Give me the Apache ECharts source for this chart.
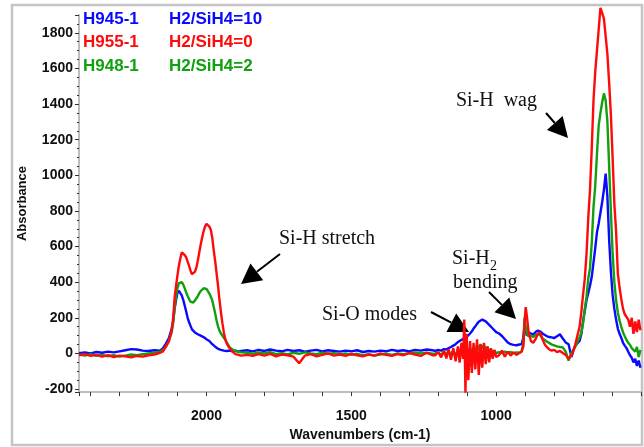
<!DOCTYPE html>
<html>
<head>
<meta charset="utf-8">
<title>FTIR absorbance</title>
<script src="https://cdn.jsdelivr.net/npm/echarts@6.0.0/dist/echarts.min.js"></script>
<style>
  html, body { margin: 0; padding: 0; background: #fff; }
  #chart { width: 644px; height: 447px; }
</style>
</head>
<body>
<div id="chart"></div>
<script>
// sample labels (legend)
const sampleNames = ['H945-1', 'H955-1', 'H948-1']
const gasRatios = ['H2/SiH4=10', 'H2/SiH4=0', 'H2/SiH4=2']

// wavenumbers (cm-1)
const wavenumbers = [
  2440, 2420, 2400, 2380, 2360, 2340, 2320, 2300, 2280, 2260, 2240, 2220, 2200, 2180, 2160,
  2150, 2140, 2130, 2120,
  2115, 2110, 2105, 2100, 2095, 2090, 2085, 2080, 2075, 2070,
  2065, 2060, 2055, 2050, 2045, 2040, 2035, 2030, 2025, 2020,
  2015, 2010, 2005, 2000, 1995, 1990, 1985, 1980, 1975, 1970,
  1965, 1960, 1955, 1950, 1945, 1940, 1935, 1930,
  1920, 1910, 1900, 1890, 1880,
  1860, 1840, 1820, 1800, 1780, 1760, 1740, 1720, 1700, 1680,
  1660, 1640, 1620, 1600, 1580, 1560, 1540, 1520, 1500, 1480,
  1460, 1440, 1420, 1400, 1380, 1360, 1340, 1320, 1300, 1280,
  1260, 1240, 1220,
  1210, 1200, 1190, 1180, 1172, 1164, 1156, 1148, 1140, 1132,
  1126, 1120, 1114, 1110, 1106, 1102, 1096, 1090, 1084, 1078,
  1072, 1066, 1060, 1054, 1048, 1042, 1036, 1030, 1024, 1018,
  1012, 1006, 1000,
  990, 980, 970, 960, 950, 940, 930, 920, 912, 906,
  902, 898, 894, 888, 880, 872, 864, 856, 848, 840,
  832, 824, 816, 808, 800, 790, 780, 770, 760, 750,
  740, 730, 724, 718, 712, 706, 700, 694, 688, 682,
  676, 670, 664, 658, 652, 646, 640, 634, 628, 622,
  616, 610, 604, 598, 592, 586, 580, 574, 568, 562,
  556, 550, 544, 538, 532, 526, 520, 514, 508, 502
]

// H945-1  (H2/SiH4=10)
const absH945 = [
  2, 6, 0, 8, 4, 10, 6, 12, 18, 24, 22, 16, 14, 18, 16,
  30, 55, 85, 140,
  180, 250, 300, 340, 352, 345, 325, 300, 268, 235,
  200, 175, 155, 135, 125, 118, 112, 108, 102, 100,
  95, 92, 86, 80, 76, 70, 62, 52, 46, 38,
  32, 26, 22, 20, 18, 16, 18, 14,
  16, 12, 16, 10, 14,
  18, 12, 20, 14, 22, 16, 12, 20, 14, 18,
  10, 16, 20, 12, 18, 14, 10, 16, 12, 18,
  8, 14, 10, 16, 12, 20, 14, 18, 12, 20,
  16, 22, 18,
  14, 20, 16, 24, 22, 30, 36, 44, 52, 64,
  70, 76, 82, 86, 88, 92, 100, 112, 124, 140,
  152, 166, 178, 184, 190, 186, 180, 170, 160, 152,
  140, 130, 120,
  112, 98, 80, 62, 52, 48, 46, 50, 52, 90,
  150, 130, 100, 118, 112, 106, 120, 128, 124, 112,
  104, 96, 92, 90, 86, 96, 108, 84, 62, 52,
  -20, 34, 50, 44, 70, 110, 180, 240, 300, 340,
  380, 430, 510, 590, 680, 730, 790, 850, 920, 1010,
  880, 640, 460, 330, 250, 190, 140, 110, 88, 60,
  44, 30, 10, -10, -24, -50, -30, -70, -40, -80
]

// H955-1  (H2/SiH4=0)
const absH955 = [
  -10, -4, -14, -8, -18, -10, -20, -12, -16, -22, -14, -18, -10, -6, 4,
  12, 38, 68, 130,
  200, 312, 380, 440, 495, 535, 568, 570, 552, 540,
  515, 492, 465, 445, 442, 458, 480, 520, 565, 610,
  650, 685, 712, 728, 728, 712, 695, 650, 580, 520,
  450, 380, 300, 230, 170, 118, 80, 55,
  28, 10, -4, -8, -12,
  -8, -14, -4, -12, -2, -16, -6, -10, -18, -55,
  -12, -4, -16, -8, 0, -12, -6, -14, -2, -10,
  -16, -6, -12, 0, -8, -14, -4, -10, 2, -6,
  -14, 4, -10,
  -10, 8, -22, 14, -28, 24, -36, 30, -44, 40,
  -52, 60, -30, 190, -220, 110, -150, 70, -110, 60,
  -90, 80, -120, 50, -80, 60, -60, 40, -50, 30,
  -30, 20, -20,
  -10, 16, -18, 10, -12, 6, -8, 2, 10, 40,
  180, 260, 210, 120, 70, 60, 80, 110, 118, 80,
  50, 34, 22, 16, 20, 8, 14, 2, -8, -30,
  -10, 30, 70, 110, 150, 230, 330, 420, 560, 760,
  920, 1150, 1420, 1580, 1700, 1820, 1940, 1910, 1880, 1780,
  1680, 1520, 1340, 1100, 840, 685, 450, 370, 305, 250,
  220, 210, 190, 150, 200, 110, 180, 120, 190, 130
]

// H948-1  (H2/SiH4=2)
const absH948 = [
  -5, -12, -4, -14, -8, -16, -10, -18, -12, -6, -10, -4, 0, 4, 10,
  20, 40, 68, 120,
  170, 256, 320, 368, 395, 406, 400, 386, 365, 342,
  323, 305, 290, 284, 286, 296, 308, 322, 338, 350,
  360, 366, 368, 362, 352, 336, 318, 298, 262, 225,
  185, 152, 128, 112, 100, 88, 76, 62,
  34, 22, 14, 8, 6,
  4, -2, 6, 0, 8, -4, 2, -6, 4, -2,
  6, 0, -4, 4, -2, 2, -6, 0, -8, -2,
  -10, -4, -12, -6, -2, -8, 0, -4, 2, 6,
  0, 4, -2,
  0, 6, -8, 10, -6, 14, -10, 16, -12, 20,
  -14, 30, -20, 40, -30, 20, -10, 30, 0, 38,
  10, 48, 20, 52, 30, 46, 18, 36, 10, 24,
  4, 16, 2,
  8, 2, 10, 4, 8, 2, 6, 4, 12, 60,
  200, 150, 110, 96, 100, 92, 104, 108, 102, 84,
  76, 66, 58, 50, 46, 40, 36, 34, 10, -40,
  4, 30, 48, 70, 90, 115, 170, 250, 320, 420,
  480, 620, 820, 940, 1120, 1280, 1350, 1410, 1460, 1420,
  1300, 1053, 800, 560, 400, 300, 230, 185, 150, 118,
  96, 76, 60, 48, 30, 40, 10, 36, -20, 20
]

const BLUE = '#0a0aff'
const RED = '#ff0a0a'
const GREEN = '#10a010'
const SANS = 'Arial, "Liberation Sans", sans-serif'
const SERIF = '"Times New Roman", "Liberation Serif", serif'

const chart = echarts.init(document.getElementById('chart'), null, { renderer: 'canvas' })

const makeSeries = (name, values, color, z) => ({
  name,
  type: 'line',
  data: wavenumbers.map((w, i) => [w, values[i]]),
  showSymbol: false,
  symbol: 'none',
  clip: false,
  z,
  lineStyle: { color, width: 2.4 },
  itemStyle: { color },
})

// arrows: tail -> tip, in pixels
const arrows = [
  [546, 113, 568, 138],
  [280, 254, 241, 284],
  [431, 312, 469, 332],
  [489, 292, 516, 319],
]

const arrowGraphics = []
arrows.forEach(([x1, y1, x2, y2]) => {
  const len = Math.hypot(x2 - x1, y2 - y1)
  const dx = (x2 - x1) / len
  const dy = (y2 - y1) / len
  const bx = x2 - dx * 20
  const by = y2 - dy * 20
  arrowGraphics.push({
    type: 'line',
    shape: { x1, y1, x2: bx, y2: by },
    style: { stroke: '#000', lineWidth: 2 },
  })
  arrowGraphics.push({
    type: 'polygon',
    shape: { points: [[x2, y2], [bx - dy * 10.5, by + dx * 10.5], [bx + dy * 10.5, by - dx * 10.5]] },
    style: { fill: '#000' },
  })
})

const notes = [
  { text: 'Si-H  wag', x: 537, y: 101, align: 'right' },
  { text: 'Si-H stretch', x: 279, y: 239, align: 'left' },
  { text: 'Si-O modes', x: 417, y: 315, align: 'right' },
  { text: 'Si-H', x: 452, y: 259, align: 'left' },
  { text: 'bending', x: 453, y: 283, align: 'left' },
]

const noteGraphics = notes.map((n) => ({
  type: 'text',
  style: {
    text: n.text,
    x: n.x,
    y: n.y,
    fill: '#111',
    font: '20px ' + SERIF,
    textAlign: n.align,
    textVerticalAlign: 'middle',
    verticalAlign: 'middle',
  },
}))
// subscript of Si-H2
noteGraphics.push({
  type: 'text',
  style: {
    text: '2',
    x: 490,
    y: 266,
    fill: '#111',
    font: '14px ' + SERIF,
    textAlign: 'left',
    textVerticalAlign: 'middle',
    verticalAlign: 'middle',
  },
})

const labelStyle = { fontFamily: SANS, fontWeight: 'bold', fontSize: 14, color: '#111' }

chart.setOption({
  animation: false,
  backgroundColor: '#fff',
  grid: { left: 79, right: 3, top: 15, bottom: 52 },
  legend: {
    orient: 'vertical',
    left: 78,
    top: 9,
    padding: 0,
    icon: 'none',
    itemWidth: 0,
    itemHeight: 0,
    itemGap: 3.5,
    selectedMode: false,
    textStyle: {
      fontFamily: SANS,
      fontWeight: 'bold',
      fontSize: 17,
      lineHeight: 20,
      rich: {
        n: { width: 86, fontFamily: SANS, fontWeight: 'bold', fontSize: 17 },
        r: { fontFamily: SANS, fontWeight: 'bold', fontSize: 17 },
      },
    },
    formatter: (name) => `{n|${name}}{r|${gasRatios[sampleNames.indexOf(name)]}}`,
    data: [
      { name: sampleNames[0], textStyle: { color: BLUE } },
      { name: sampleNames[1], textStyle: { color: RED } },
      { name: sampleNames[2], textStyle: { color: GREEN } },
    ],
  },
  xAxis: {
    type: 'value',
    min: 500,
    max: 2440,
    interval: 100,
    inverse: true,
    name: 'Wavenumbers (cm-1)',
    nameLocation: 'middle',
    nameGap: 31,
    nameTextStyle: labelStyle,
    axisLine: { show: true, onZero: false, lineStyle: { color: '#bdbdbd', width: 2 } },
    axisTick: { show: true, length: 4, lineStyle: { color: '#333' } },
    axisLabel: {
      ...labelStyle,
      margin: 17,
      formatter: (v) => (v % 500 === 0 && v !== 500 ? String(v) : ''),
    },
    splitLine: { show: false },
  },
  yAxis: {
    type: 'value',
    min: -217,
    max: 1900,
    splitNumber: 10,
    name: 'Absorbance',
    nameLocation: 'middle',
    nameGap: 50,
    nameTextStyle: { ...labelStyle, fontSize: 13 },
    axisLine: { show: true, onZero: false, lineStyle: { color: '#bdbdbd', width: 2 } },
    axisTick: { show: true, length: 4, lineStyle: { color: '#333' } },
    minorTick: { show: true, splitNumber: 4, length: 2, lineStyle: { color: '#333' } },
    axisLabel: {
      ...labelStyle,
      margin: 6,
      formatter: (v) => (v % 200 === 0 ? String(v) : ''),
    },
    splitLine: { show: false },
  },
  graphic: [
    {
      type: 'rect',
      shape: { x: 12, y: 5, width: 630, height: 440 },
      style: { fill: 'none', stroke: '#c4c4c4', lineWidth: 2.5 },
      z: -10,
    },
    ...arrowGraphics,
    ...noteGraphics,
  ],
  series: [
    makeSeries(sampleNames[0], absH945, BLUE, 2),
    makeSeries(sampleNames[2], absH948, GREEN, 3),
    makeSeries(sampleNames[1], absH955, RED, 4),
  ],
})
</script>
</body>
</html>
